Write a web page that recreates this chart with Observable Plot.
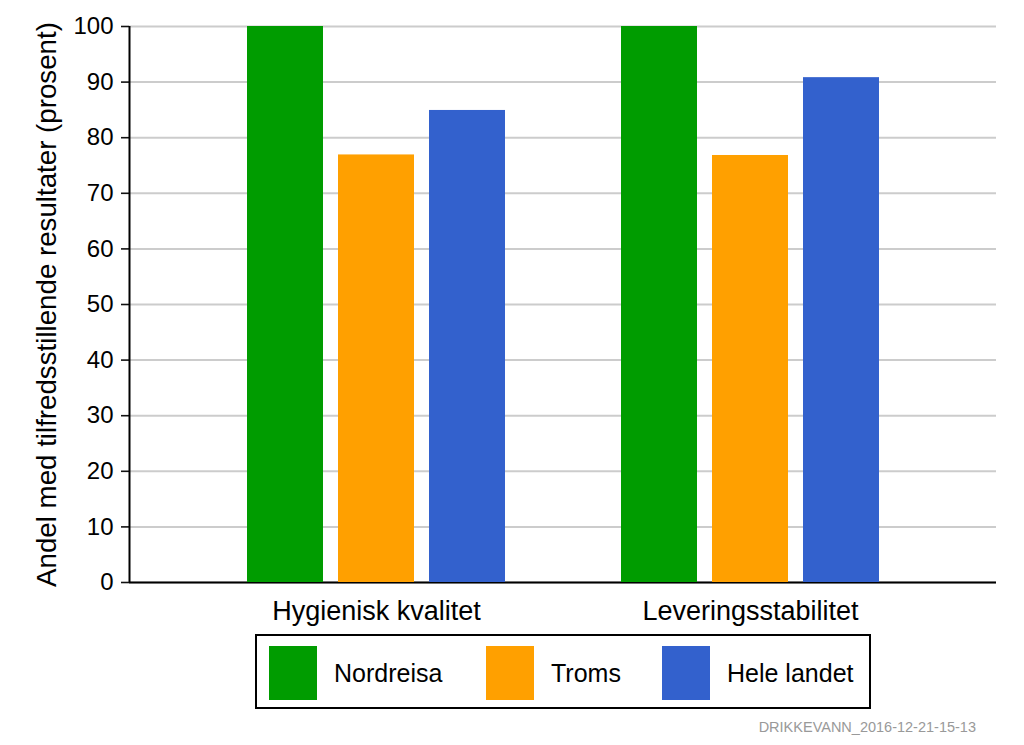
<!DOCTYPE html>
<html>
<head>
<meta charset="utf-8">
<script src="https://cdn.jsdelivr.net/npm/d3@7"></script>
<script src="https://cdn.jsdelivr.net/npm/@observablehq/plot@0.6"></script>
<style>
  html, body { margin: 0; padding: 0; background: #fff; }
  #wrap { position: relative; width: 1024px; height: 745px; font-family: "Liberation Sans", Arial, sans-serif; overflow: hidden; }
  #back, #front { position: absolute; left: 0; top: 0; }
  #legend { position: absolute; left: 255px; top: 634px; width: 612px; height: 71px; border: 2px solid #000; box-sizing: content-box; }
  .item { position: absolute; top: 10px; display: flex; align-items: center; height: 54px; }
  .sw { width: 48px; height: 54px; margin-right: 17px; }
  .lab { font-size: 25px; color: #000; }
  #caption { position: absolute; right: 48px; top: 719px; font-size: 14.5px; color: #999; }
</style>
</head>
<body>
<div id="wrap">
  <div id="back"></div>
  <div id="front"></div>
  <div id="legend"></div>
  <div id="caption"></div>
</div>
<script>
const categories = ["Hygienisk kvalitet", "Leveringsstabilitet"];
const series = ["Nordreisa", "Troms", "Hele landet"];
const nordreisa = [100, 100];
const troms = [76.9, 76.8];
const heleLandet = [84.9, 90.8];
const yTicks = [0, 10, 20, 30, 40, 50, 60, 70, 80, 90, 100];
const colors = ["#009c00", "#ffa000", "#3361cd"];
const yLabel = "Andel med tilfredsstillende resultater (prosent)";
const captionText = "DRIKKEVANN_2016-12-21-15-13";

const valuesBySeries = [nordreisa, troms, heleLandet];
const data = categories.flatMap((c, i) =>
  series.map((s, j) => ({category: c, series: s, value: valuesBySeries[j][i]}))
);

const common = {
  width: 1024,
  height: 630,
  marginLeft: 129,
  marginRight: 28,
  marginTop: 26,
  marginBottom: 48
};

// Background layer: grid, y axis, axis lines, y label
const back = Plot.plot({
  ...common,
  x: {domain: [0, 1], axis: null},
  y: {domain: [0, 100], label: null},
  style: {fontFamily: "Liberation Sans, Arial, sans-serif", background: "white", color: "black"},
  marks: [
    Plot.ruleY(yTicks, {stroke: "#cccccc", strokeWidth: 2}),
    Plot.axisY(yTicks, {anchor: "left", tickSize: 8, tickPadding: 8, fontSize: 24, tickFormat: d => d, label: null, stroke: "#111", strokeWidth: 1.6}),
    Plot.ruleX([0], {stroke: "black", strokeWidth: 2}),
    Plot.ruleY([0], {stroke: "black", strokeWidth: 2}),
    Plot.text([yLabel], {text: d => d, frameAnchor: "left", textAnchor: "middle", lineAnchor: "middle", rotate: -90, dx: -82, fontSize: 27.7, fill: "black"})
  ]
});

// Foreground layer: grouped bars and category labels
const front = Plot.plot({
  ...common,
  y: {domain: [0, 100], label: null, axis: null},
  style: {fontFamily: "Liberation Sans, Arial, sans-serif", background: "transparent", color: "black"},
  fx: {domain: categories, paddingInner: 0.305, paddingOuter: 0.31, label: null},
  x: {domain: series, paddingInner: 0.165, paddingOuter: 0, axis: null},
  color: {domain: series, range: colors},
  marks: [
    Plot.barY(data, {fx: "category", x: "series", y: "value", fill: "series"}),
    Plot.axisFx({anchor: "bottom", tickSize: 0, tickPadding: 18, fontSize: 27, label: null})
  ]
});

document.getElementById("back").appendChild(back);
document.getElementById("front").appendChild(front);

const legend = document.getElementById("legend");
const lefts = [12, 229, 405];
series.forEach((s, i) => {
  const it = document.createElement("div");
  it.className = "item";
  it.style.left = lefts[i] + "px";
  const sw = document.createElement("div");
  sw.className = "sw";
  sw.style.background = colors[i];
  const lab = document.createElement("span");
  lab.className = "lab";
  lab.textContent = s;
  it.appendChild(sw);
  it.appendChild(lab);
  legend.appendChild(it);
});
document.getElementById("caption").textContent = captionText;
</script>
</body>
</html>
